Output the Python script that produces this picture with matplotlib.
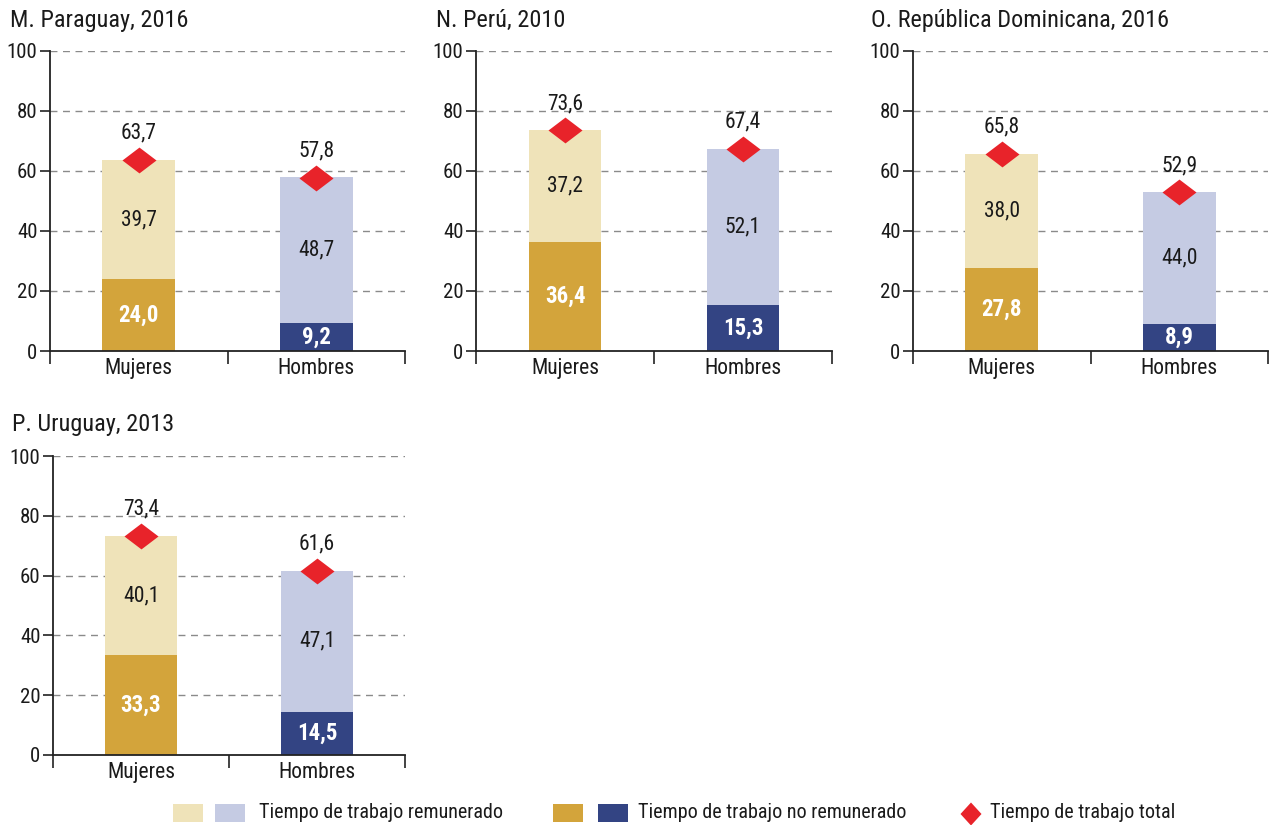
import matplotlib
matplotlib.use("Agg")
import matplotlib.pyplot as plt
from matplotlib.patches import Rectangle, Polygon
from matplotlib.path import Path
from matplotlib import font_manager

names = {f.name for f in font_manager.fontManager.ttflist}
family = next((n for n in ["Roboto Condensed", "Archivo Narrow", "Barlow Semi Condensed",
                           "PT Sans Narrow", "Liberation Sans Narrow"] if n in names), "DejaVu Sans")
plt.rcParams["font.family"] = [family, "DejaVu Sans"]

categories = ["Mujeres", "Hombres"]
titles = ["M. Paraguay, 2016", "N. Perú, 2010", "O. República Dominicana, 2016", "P. Uruguay, 2013"]
unpaid = [[24.0, 9.2], [36.4, 15.3], [27.8, 8.9], [33.3, 14.5]]
paid = [[39.7, 48.7], [37.2, 52.1], [38.0, 44.0], [40.1, 47.1]]
total = [[63.7, 57.8], [73.6, 67.4], [65.8, 52.9], [73.4, 61.6]]
yticks = [0, 20, 40, 60, 80, 100]

legend_labels = ["Tiempo de trabajo remunerado", "Tiempo de trabajo no remunerado", "Tiempo de trabajo total"]

paid_colors = ["#EFE3B9", "#C5CBE3"]
unpaid_colors = ["#D3A43B", "#334483"]
red = "#E8232A"
ink = "#1a1a1a"
fs = 15.5

W, H = 1269, 825
fig = plt.figure(figsize=(W / 100, H / 100), dpi=100)

# axes boxes in pixels: (left, top, width, height)
boxes = [(50, 51, 355, 300), (476, 51, 356, 300), (913, 51, 355, 300), (53, 456, 352, 299)]
title_pos = [(10, 20), (436, 20), (871, 20), (12, 425)]

# flattened diamond used for the total markers
flat_diamond = Path([(-1, 0), (0, 0.76), (1, 0), (0, -0.76), (-1, 0)],
                    [Path.MOVETO, Path.LINETO, Path.LINETO, Path.LINETO, Path.CLOSEPOLY])


def fmt(v):
    return f"{v:.1f}".replace(".", ",")


def px(x, y):
    return x / W, 1 - y / H


for i, (l, t, w, h) in enumerate(boxes):
    ax = fig.add_axes([l / W, 1 - (t + h) / H, w / W, h / H])
    x = list(range(len(categories)))
    ax.bar(x, unpaid[i], width=0.41, color=unpaid_colors, zorder=2)
    ax.bar(x, paid[i], width=0.41, bottom=unpaid[i], color=paid_colors, zorder=2)
    ax.scatter(x, total[i], marker=flat_diamond, s=600, color=red, zorder=4, linewidths=0)
    for j in x:
        ax.text(j, unpaid[i][j] / 2, fmt(unpaid[i][j]), ha="center", va="center",
                color="white", fontweight="bold", fontsize=16.5, zorder=5)
        ax.text(j, unpaid[i][j] + paid[i][j] / 2, fmt(paid[i][j]), ha="center", va="center",
                color=ink, fontsize=fs, zorder=5)
        ax.annotate(fmt(total[i][j]), (j, total[i][j]), xytext=(0, 11.5), textcoords="offset points",
                    ha="center", va="bottom", color=ink, fontsize=fs, zorder=5)
    ax.set_xlim(-0.5, 1.5)
    ax.set_ylim(0, 100)
    ax.set_yticks(yticks)
    ax.set_yticklabels([str(v) for v in yticks], fontsize=15, color=ink)
    ax.set_xticks([-0.5, 0.5, 1.5])
    ax.set_xticklabels([])
    ax.set_xticks(x, minor=True)
    ax.set_xticklabels(categories, minor=True, fontsize=fs, color=ink)
    ax.tick_params(axis="x", which="minor", length=0, pad=5)
    ax.tick_params(axis="x", which="major", length=9, width=1.2, color="#222222")
    ax.tick_params(axis="y", length=7, width=1.2, color="#222222", pad=2)
    for s in ("top", "right"):
        ax.spines[s].set_visible(False)
    for s in ("left", "bottom"):
        ax.spines[s].set_linewidth(1.3)
        ax.spines[s].set_color("#222222")
        ax.spines[s].set_zorder(6)
    for v in yticks[1:]:
        ax.axhline(v, color="#8a8a8a", lw=1, ls=(0, (5, 4)), zorder=1)
    tx, ty = title_pos[i]
    fig.text(*px(tx, ty), titles[i], ha="left", va="center", fontsize=17.5, color=ink)

# legend row along the bottom edge
ly = 813
sq_w, sq_h = 30, 18
swatches = [(173, paid_colors[0]), (215, paid_colors[1]), (553, unpaid_colors[0]), (598, unpaid_colors[1])]
for x0, c in swatches:
    fx, fy = px(x0, ly + sq_h / 2)
    fig.add_artist(Rectangle((fx, fy), sq_w / W, sq_h / H, transform=fig.transFigure,
                             color=c, lw=0))
dx, dy = 971, 814
diamond = [px(dx, dy - 11.5), px(dx + 10.5, dy), px(dx, dy + 11.5), px(dx - 10.5, dy)]
fig.add_artist(Polygon(diamond, closed=True, transform=fig.transFigure, color=red, lw=0))
for tx, lab in zip([259, 638, 990], legend_labels):
    fig.text(*px(tx, ly), lab, ha="left", va="center", fontsize=14.5, color=ink)

fig.savefig("out.png", dpi=100)
